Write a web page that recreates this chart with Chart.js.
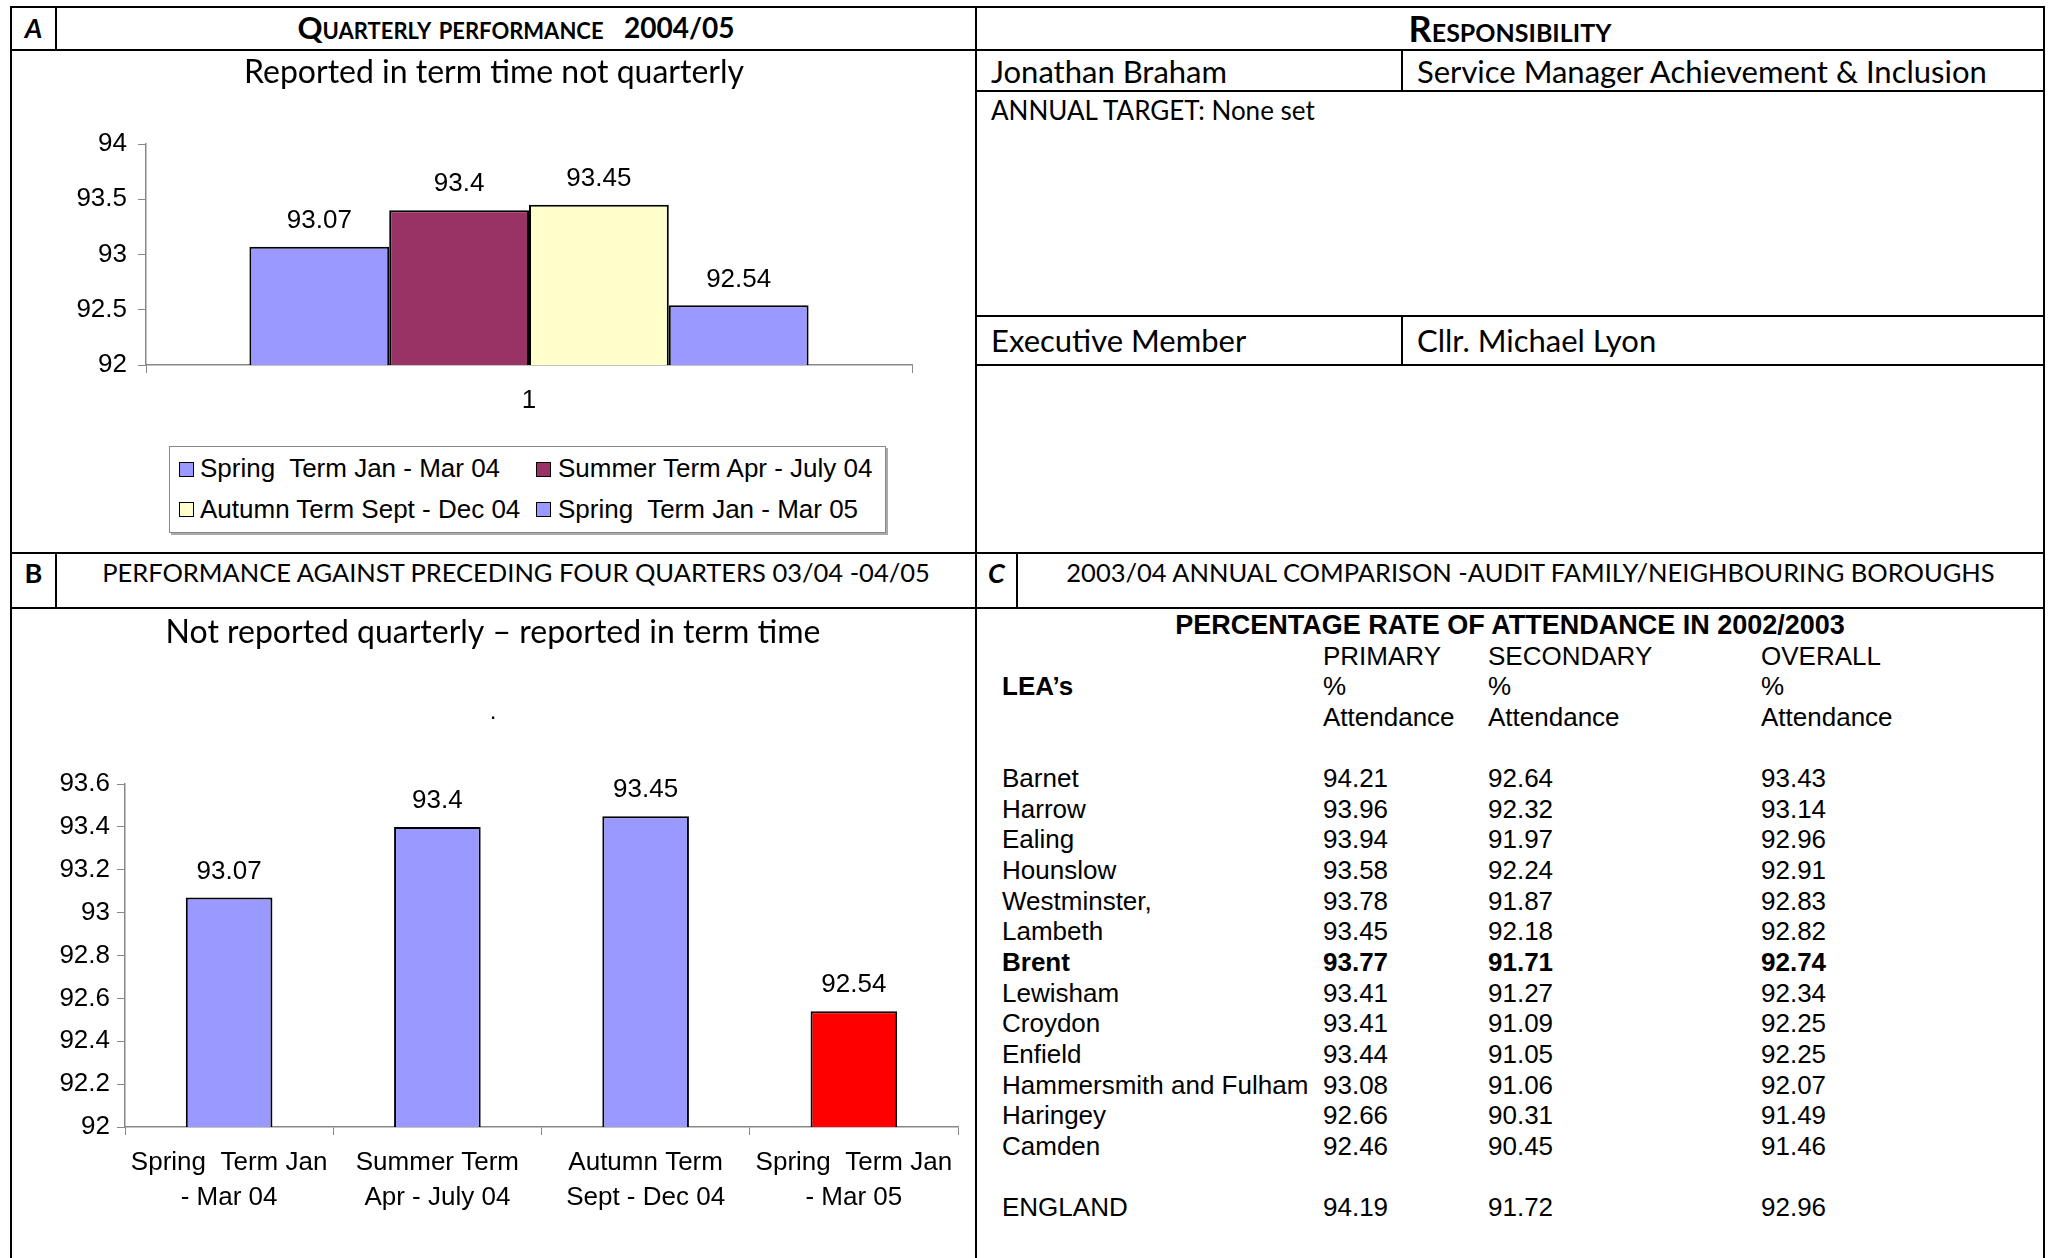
<!DOCTYPE html>
<html>
<head>
<meta charset="utf-8">
<script src="https://cdn.jsdelivr.net/npm/chart.js@4.4.1/dist/chart.umd.min.js"></script>
<style>
  body { margin: 0; width: 2049px; height: 1258px; background: #fff; position: relative; overflow: hidden; }
  .ln { position: absolute; background: #000; }
  .t { position: absolute; white-space: pre; color: #000; }
  .hand { font-family: "Comic Sans MS", Lato, "Noto Sans", sans-serif; }
  .arial { font-family: "Liberation Sans", Arial, sans-serif; }
  .cell { position: absolute; display: flex; align-items: center; justify-content: center; white-space: pre; }
  .sc { font-variant: small-caps; font-weight: bold; }
  canvas { position: absolute; }
  #legendA { position: absolute; left: 169px; top: 446px; width: 715px; height: 85px; border: 1.5px solid #888; box-shadow: 2px 2px 0 #aaa; background: #fff; }
  .sw { position: absolute; width: 13px; height: 13px; border: 1px solid #000; }
</style>
</head>
<body>

<!-- frame lines -->
<div class="ln" style="left:10px;top:6px;width:2035px;height:2px"></div>
<div class="ln" style="left:10px;top:49px;width:2035px;height:2px"></div>
<div class="ln" style="left:976px;top:90px;width:1069px;height:2px"></div>
<div class="ln" style="left:976px;top:315px;width:1069px;height:2px"></div>
<div class="ln" style="left:976px;top:364px;width:1069px;height:2px"></div>
<div class="ln" style="left:10px;top:552px;width:2035px;height:2px"></div>
<div class="ln" style="left:10px;top:607px;width:2035px;height:2px"></div>
<div class="ln" style="left:10px;top:6px;width:2px;height:1252px"></div>
<div class="ln" style="left:975px;top:6px;width:2px;height:1252px"></div>
<div class="ln" style="left:2043px;top:6px;width:2px;height:1252px"></div>
<div class="ln" style="left:55px;top:6px;width:2px;height:44px"></div>
<div class="ln" style="left:55px;top:552px;width:2px;height:56px"></div>
<div class="ln" style="left:1401px;top:49px;width:2px;height:42px"></div>
<div class="ln" style="left:1401px;top:315px;width:2px;height:50px"></div>
<div class="ln" style="left:1016px;top:552px;width:2px;height:56px"></div>

<!-- section headers -->
<div class="cell hand" style="left:12px;top:8px;width:43px;height:38px;font-size:27px;font-weight:bold;font-style:italic">A</div>
<div class="cell hand" style="left:57px;top:8px;width:918px;height:38px"><span class="sc" style="font-size:31px">Quarterly performance</span><span style="font-weight:bold;font-size:28px">   2004/05</span></div>
<div class="cell hand sc" style="left:977px;top:8px;width:1066px;height:40px;font-size:36px">Responsibility</div>
<div class="t hand" style="left:991px;top:52px;line-height:38px;font-size:31px">Jonathan Braham</div>
<div class="t hand" style="left:1417px;top:52px;line-height:38px;font-size:31px">Service Manager Achievement &amp; Inclusion</div>
<div class="t hand" style="left:991px;top:95px;line-height:30px;font-size:26px">ANNUAL TARGET: None set</div>
<div class="t hand" style="left:991px;top:319px;line-height:42px;font-size:31px">Executive Member</div>
<div class="t hand" style="left:1417px;top:319px;line-height:42px;font-size:31px">Cllr. Michael Lyon</div>

<div class="cell hand" style="left:12px;top:554px;width:43px;height:36px;font-size:27px;font-weight:bold">B</div>
<div class="cell hand" style="left:57px;top:554px;width:918px;height:36px;font-size:25.5px">PERFORMANCE AGAINST PRECEDING FOUR QUARTERS 03/04 -04/05</div>
<div class="cell hand" style="left:977px;top:554px;width:39px;height:36px;font-size:27px;font-weight:bold;font-style:italic">C</div>
<div class="cell hand" style="left:1018px;top:554px;width:1025px;height:36px;font-size:25.5px">2003/04 ANNUAL COMPARISON -AUDIT FAMILY/NEIGHBOURING BOROUGHS</div>

<canvas id="chartA" width="962" height="390" style="left:12px;top:52px"></canvas>
<div id="legendA"></div>
<canvas id="chartB" width="962" height="640" style="left:12px;top:610px"></canvas>

<div id="tableC"></div>

<script>
// ---- data ----
var termNames = ['Spring  Term Jan - Mar 04', 'Summer Term Apr - July 04', 'Autumn Term Sept - Dec 04', 'Spring  Term Jan - Mar 05'];
var termLines = [['Spring  Term Jan', '- Mar 04'], ['Summer Term', 'Apr - July 04'], ['Autumn Term', 'Sept - Dec 04'], ['Spring  Term Jan', '- Mar 05']];
var termValues = [93.07, 93.4, 93.45, 92.54];
var quarterColours = ['#9999FF', '#993366', '#FFFFCC', '#9999FF'];
var trendColours = ['#9999FF', '#9999FF', '#9999FF', '#FF0000'];

var leaNames = ['Barnet', 'Harrow', 'Ealing', 'Hounslow', 'Westminster,', 'Lambeth', 'Brent', 'Lewisham', 'Croydon', 'Enfield', 'Hammersmith and Fulham', 'Haringey', 'Camden'];
var primaryPct = [94.21, 93.96, 93.94, 93.58, 93.78, 93.45, 93.77, 93.41, 93.41, 93.44, 93.08, 92.66, 92.46];
var secondaryPct = [92.64, 92.32, 91.97, 92.24, 91.87, 92.18, 91.71, 91.27, 91.09, 91.05, 91.06, 90.31, 90.45];
var overallPct = [93.43, 93.14, 92.96, 92.91, 92.83, 92.82, 92.74, 92.34, 92.25, 92.25, 92.07, 91.49, 91.46];
var englandRow = ['ENGLAND', 94.19, 91.72, 92.96];

var armFont = { family: '"Liberation Sans", Arial, sans-serif', size: 26 };
var handFont = '"Comic Sans MS", Lato, "Noto Sans", sans-serif';

// value above every bar
var valueLabels = {
  id: 'valueLabels',
  afterDatasetsDraw: function(chart) {
    var ctx = chart.ctx;
    ctx.save();
    ctx.font = '26px "Liberation Sans", Arial, sans-serif';
    ctx.fillStyle = '#000';
    ctx.textAlign = 'center';
    ctx.textBaseline = 'middle';
    chart.data.datasets.forEach(function(ds, i) {
      chart.getDatasetMeta(i).data.forEach(function(bar, j) {
        ctx.fillText(String(ds.data[j]), bar.x, bar.y - 26);
      });
    });
    ctx.restore();
  }
};

function fmt(v) { return String(Number(v.toFixed(1))); }

// ---- chart A ----
var ctxA = document.getElementById('chartA').getContext('2d');
var chartA = new Chart(ctxA, {
  type: 'bar',
  data: {
    labels: [1],
    datasets: termNames.map(function(name, i) {
      return { label: name, data: [termValues[i]], backgroundColor: quarterColours[i], borderColor: '#000', borderWidth: 2 };
    })
  },
  options: {
    responsive: false,
    animation: false,
    layout: { padding: { left: 64, right: 62, top: 0, bottom: 27 } },
    datasets: { bar: { categoryPercentage: 0.73, barPercentage: 1 } },
    plugins: {
      legend: { display: false },
      tooltip: { enabled: false },
      title: { display: true, text: 'Reported in term time not quarterly', color: '#000',
        font: { family: handFont, size: 32, weight: 'normal', lineHeight: 1.2 }, padding: { top: 1, bottom: 52.6 } }
    },
    scales: {
      x: {
        grid: { drawOnChartArea: false, tickLength: 8, color: '#888' },
        border: { color: '#888', width: 1.5 },
        ticks: { color: '#000', font: armFont, padding: 12 },
        afterFit: function(s) { s.height = 50; }
      },
      y: {
        min: 92, max: 94,
        grid: { drawOnChartArea: false, tickLength: 8, color: '#888' },
        border: { color: '#888', width: 1.5 },
        ticks: { stepSize: 0.5, color: '#000', font: armFont, padding: 11, callback: fmt },
        afterFit: function(s) { s.width = 70; }
      }
    }
  },
  plugins: [valueLabels]
});

// legend A as a boxed two-column key
var legendA = document.getElementById('legendA');
termNames.forEach(function(name, i) {
  var col = i % 2, row = Math.floor(i / 2);
  var sw = document.createElement('div');
  sw.className = 'sw';
  sw.style.background = quarterColours[i];
  sw.style.left = (col ? 366 : 9) + 'px';
  sw.style.top = (row ? 55 : 15) + 'px';
  legendA.appendChild(sw);
  var tx = document.createElement('div');
  tx.className = 't arial';
  tx.style.fontSize = '26px';
  tx.style.lineHeight = '30px';
  tx.style.left = (col ? 388 : 30) + 'px';
  tx.style.top = (row ? 47 : 6) + 'px';
  tx.textContent = name;
  legendA.appendChild(tx);
});

// ---- chart B ----
var ctxB = document.getElementById('chartB').getContext('2d');
var chartB = new Chart(ctxB, {
  type: 'bar',
  data: {
    labels: termLines,
    datasets: [{ data: termValues, backgroundColor: trendColours, borderColor: '#000', borderWidth: 2 }]
  },
  options: {
    responsive: false,
    animation: false,
    layout: { padding: { left: 16, right: 16, top: 0, bottom: 23 } },
    datasets: { bar: { categoryPercentage: 0.8, barPercentage: 0.52 } },
    plugins: {
      legend: { display: false },
      tooltip: { enabled: false },
      title: { display: true, text: 'Not reported quarterly \u2013 reported in term time', color: '#000',
        font: { family: handFont, size: 32, weight: 'normal', lineHeight: 1.2 }, padding: { top: 3, bottom: 41.2 } },
      subtitle: { display: true, text: '.', color: '#000',
        font: { family: armFont.family, size: 24, lineHeight: 1.2 }, padding: { top: 5, bottom: 57.6 } }
    },
    scales: {
      x: {
        grid: { drawOnChartArea: false, tickLength: 8, color: '#888' },
        border: { color: '#888', width: 1.5 },
        ticks: { color: '#000', font: { family: armFont.family, size: 26, lineHeight: 1.32 }, padding: 11, maxRotation: 0, autoSkip: false },
        afterFit: function(s) { s.height = 100; }
      },
      y: {
        min: 92, max: 93.6,
        grid: { drawOnChartArea: false, tickLength: 8, color: '#888' },
        border: { color: '#888', width: 1.5 },
        ticks: { stepSize: 0.2, color: '#000', font: armFont, padding: 7, callback: fmt },
        afterFit: function(s) { s.width = 97; }
      }
    }
  },
  plugins: [valueLabels]
});

// ---- table C ----
var tableC = document.getElementById('tableC');
function put(text, x, y, bold) {
  var d = document.createElement('div');
  d.className = 't arial';
  d.style.fontSize = '26px';
  d.style.lineHeight = '30px';
  d.style.left = x + 'px';
  d.style.top = (y - 15) + 'px';
  if (bold) d.style.fontWeight = 'bold';
  d.textContent = text;
  tableC.appendChild(d);
}
var colX = [1002, 1323, 1488, 1761];
var title = document.createElement('div');
title.className = 'cell arial';
title.style.cssText = 'left:977px;top:610px;width:1066px;height:30px;font-size:27px;font-weight:bold';
title.textContent = 'PERCENTAGE RATE OF ATTENDANCE IN 2002/2003';
tableC.appendChild(title);
put('LEA\u2019s', colX[0], 686, true);
['PRIMARY', 'SECONDARY', 'OVERALL'].forEach(function(h, i) {
  put(h, colX[i + 1], 656);
  put('%', colX[i + 1], 686);
  put('Attendance', colX[i + 1], 717);
});
leaNames.forEach(function(name, i) {
  var y = 778 + i * 30.67;
  var b = name === 'Brent';
  put(name, colX[0], y, b);
  put(primaryPct[i].toFixed(2), colX[1], y, b);
  put(secondaryPct[i].toFixed(2), colX[2], y, b);
  put(overallPct[i].toFixed(2), colX[3], y, b);
});
englandRow.forEach(function(v, i) {
  put(typeof v === 'number' ? v.toFixed(2) : v, colX[i], 1207);
});
</script>
</body>
</html>
